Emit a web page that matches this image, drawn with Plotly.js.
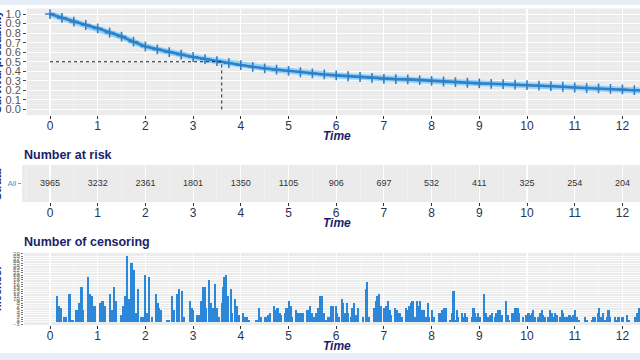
<!DOCTYPE html>
<html>
<head>
<meta charset="utf-8">
<script src="https://cdn.plot.ly/plotly-3.0.1.min.js"></script>
<style>
html,body{margin:0;padding:0;background:#fff;}
#chart{width:640px;height:360px;}
</style>
</head>
<body>
<div id="chart"></div>
<script>
// ---- data ----
const timeTicks = [0,1,2,3,4,5,6,7,8,9,10,11,12];
const atRisk = [3965,3232,2361,1801,1350,1105,906,697,532,411,325,254,204];
const strataLabel = "All";

const survTime = [0,0.25,0.5,0.75,1,1.25,1.5,1.75,2,2.25,2.5,2.75,3,3.25,3.5,3.75,4,4.25,4.5,4.75,5,5.25,5.5,5.75,6,6.25,6.5,6.75,7,7.25,7.5,7.75,8,8.25,8.5,8.75,9,9.25,9.5,9.75,10,10.25,10.5,10.75,11,11.25,11.5,11.75,12,12.25,12.5];
const survProb = [1.0,0.96,0.92,0.885,0.85,0.805,0.764,0.71,0.66,0.63,0.60,0.575,0.55,0.527,0.507,0.485,0.465,0.447,0.43,0.417,0.405,0.39,0.378,0.367,0.357,0.348,0.34,0.33,0.32,0.318,0.315,0.307,0.30,0.293,0.286,0.28,0.273,0.269,0.265,0.26,0.255,0.25,0.245,0.238,0.23,0.225,0.22,0.215,0.21,0.203,0.195];

const medianTime = 3.6;
const medianSurv = 0.5;

const censorTime = [0.14,0.18,0.23,0.29,0.33,0.41,0.47,0.55,0.58,0.62,0.66,0.70,0.80,0.84,0.87,0.92,0.95,1.05,1.10,1.15,1.26,1.29,1.34,1.38,1.50,1.54,1.57,1.62,1.66,1.71,1.76,1.80,1.85,1.90,1.94,1.99,2.03,2.08,2.13,2.22,2.26,2.29,2.33,2.45,2.50,2.55,2.59,2.67,2.71,2.76,2.80,2.94,2.97,3.00,3.09,3.13,3.17,3.20,3.24,3.27,3.33,3.37,3.41,3.46,3.49,3.54,3.60,3.63,3.66,3.69,3.72,3.79,3.82,3.88,3.91,3.95,4.04,4.07,4.12,4.16,4.32,4.35,4.38,4.42,4.51,4.54,4.58,4.61,4.70,4.73,4.77,4.81,4.84,4.93,4.96,5.01,5.05,5.08,5.16,5.19,5.23,5.28,5.31,5.40,5.45,5.49,5.54,5.58,5.63,5.66,5.70,5.74,5.79,5.84,5.90,5.94,5.99,6.02,6.06,6.12,6.15,6.19,6.22,6.25,6.31,6.34,6.38,6.41,6.45,6.57,6.62,6.65,6.69,6.80,6.83,6.86,6.90,6.94,7.01,7.04,7.08,7.12,7.15,7.23,7.27,7.30,7.34,7.37,7.46,7.50,7.53,7.57,7.60,7.64,7.69,7.72,7.76,7.79,7.83,7.88,7.92,7.95,8.01,8.05,8.16,8.19,8.23,8.26,8.30,8.39,8.42,8.46,8.49,8.53,8.56,8.63,8.67,8.70,8.74,8.84,8.88,8.91,8.95,8.98,9.02,9.10,9.13,9.17,9.22,9.26,9.33,9.36,9.40,9.43,9.47,9.56,9.59,9.63,9.68,9.71,9.74,9.77,9.80,9.84,9.92,9.99,10.03,10.06,10.10,10.13,10.17,10.24,10.27,10.31,10.34,10.38,10.45,10.48,10.52,10.55,10.59,10.62,10.69,10.73,10.76,10.80,10.85,10.89,10.94,10.97,11.01,11.04,11.08,11.22,11.25,11.36,11.39,11.43,11.48,11.51,11.55,11.60,11.64,11.67,11.71,11.74,11.85,11.88,11.92,11.99,12.02,12.09,12.13,12.27,12.30,12.34];
const censorCount = [11,7,6,2,2,12,1,5,5,8,15,5,19,12,11,7,7,8,9,7,12,5,15,9,3,7,11,28,10,25,22,4,14,2,2,20,4,19,2,12,8,6,5,1,1,11,5,12,14,13,2,9,6,5,3,3,9,15,15,6,18,8,6,16,6,2,8,15,19,20,11,14,4,10,7,3,4,2,2,1,1,1,6,2,2,2,3,4,7,5,6,4,3,4,6,9,7,2,5,4,4,4,4,5,7,4,2,4,6,11,11,4,1,2,7,7,7,4,2,10,8,4,8,4,2,6,8,3,6,2,14,17,2,6,9,11,12,7,6,7,9,5,3,6,5,4,4,2,6,5,7,8,9,2,9,7,9,5,5,2,8,2,5,2,4,4,5,6,6,1,4,13,1,5,2,4,2,4,2,2,6,4,2,4,2,12,4,2,3,4,2,4,5,5,3,9,3,1,4,4,6,1,6,4,2,3,4,3,4,5,2,2,4,5,3,2,2,5,4,2,4,3,2,5,4,2,2,3,2,3,5,2,1,2,1,1,2,2,4,6,2,4,1,2,5,2,2,1,2,2,2,3,1,2,4,6];

// ---- styling ----
const navy = '#1b1f6b';
const tickCol = '#2c3350';
const panelBg = '#ebebeb';
const W = 640, H = 360;
const px = v => v / W;
const py = v => 1 - v / H;
const xR = left => [(left - 50) / 47.7, (640 - 50) / 47.7];

const font = {family: 'Liberation Sans, Arial, sans-serif'};

const baseX = {
  tickvals: timeTicks, ticktext: timeTicks.map(String),
  ticks: 'outside', ticklen: 3, tickcolor: '#333', tickwidth: 1,
  ticklabelstandoff: -3,
  tickfont: {size: 12, color: tickCol},
  showgrid: true, gridcolor: '#ffffff', gridwidth: 1.1,
  minor: {dtick: 0.5, showgrid: true, gridcolor: '#f6f6f6', gridwidth: 0.5},
  zeroline: false, showline: false, fixedrange: true
};

const traces = [
  {x: survTime, y: survProb, xaxis: 'x', yaxis: 'y', mode: 'lines',
   line: {color: 'rgba(135,206,250,0.9)', width: 6}, hoverinfo: 'skip'},
  {x: survTime, y: survProb, xaxis: 'x', yaxis: 'y', mode: 'lines+markers',
   line: {color: '#2f80c6', width: 2.6},
   marker: {symbol: 'cross-thin-open', size: 7, line: {color: '#2b72b4', width: 1.6}}},
  {x: timeTicks, y: timeTicks.map(() => strataLabel), xaxis: 'x2', yaxis: 'y2', mode: 'text',
   text: atRisk.map(String), textfont: {size: 9, color: '#333333'}, hoverinfo: 'skip'},
  {x: censorTime, y: censorCount, xaxis: 'x3', yaxis: 'y3', type: 'bar', width: 0.046,
   marker: {color: '#2d87d8', line: {width: 0}}}
];

const timeTitle = (ypx) => ({text: '<b><i>Time</i></b>', xref: 'paper', yref: 'paper',
  x: px(337), y: py(ypx), xanchor: 'center', yanchor: 'middle', showarrow: false,
  font: {size: 12, color: navy}});

const layout = {
  width: W, height: H,
  margin: {l: 0, r: 0, t: 0, b: 0},
  paper_bgcolor: '#ffffff', plot_bgcolor: panelBg,
  showlegend: false, font: font,
  bargap: 0,
  xaxis: Object.assign({}, baseX, {domain: [px(27), 1], range: xR(27), anchor: 'y'}),
  yaxis: {domain: [py(115), py(8.5)], range: [-0.058, 1.058], anchor: 'x',
    tickvals: [0,0.1,0.2,0.3,0.4,0.5,0.6,0.7,0.8,0.9,1.0], tickformat: '.1f',
    ticks: 'outside', ticklen: 3, tickcolor: '#444', tickfont: {size: 11, color: '#555'},
    showgrid: true, gridcolor: '#ffffff', gridwidth: 1,
    minor: {dtick: 0.05, showgrid: true, gridcolor: '#f6f6f6', gridwidth: 0.5},
    zeroline: false, fixedrange: true},
  xaxis2: Object.assign({}, baseX, {domain: [px(22), 1], range: xR(22), anchor: 'y2'}),
  yaxis2: {domain: [py(202), py(165)], range: [-0.6, 0.6], anchor: 'x2', type: 'category',
    ticks: 'outside', ticklen: 3, tickcolor: '#6aa3d8', tickfont: {size: 8, color: '#4a94d6'},
    showgrid: false, zeroline: false, fixedrange: true},
  xaxis3: Object.assign({}, baseX, {domain: [px(24), 1], range: xR(24), anchor: 'y3'}),
  yaxis3: {domain: [py(325), py(253)], range: [-1.3, 29.4], anchor: 'x3',
    dtick: 1, tick0: 0, ticks: 'outside', ticklen: 2, tickcolor: '#777',
    tickfont: {size: 6, color: '#777'},
    showgrid: true, gridcolor: '#ffffff', gridwidth: 0.8,
    zeroline: false, fixedrange: true},
  shapes: [
    {type: 'rect', xref: 'paper', yref: 'paper', x0: 0, x1: 1, y0: py(5), y1: 1,
     fillcolor: '#e8eef7', line: {width: 0}, layer: 'below'},
    {type: 'rect', xref: 'paper', yref: 'paper', x0: 0, x1: 1, y0: 0, y1: py(353),
     fillcolor: '#e8eef7', line: {width: 0}, layer: 'below'},
    {type: 'line', xref: 'x', yref: 'y', x0: 0, x1: medianTime, y0: medianSurv, y1: medianSurv,
     line: {color: '#222', width: 1, dash: 'dot'}},
    {type: 'line', xref: 'x', yref: 'y', x0: medianTime, x1: medianTime, y0: 0, y1: medianSurv,
     line: {color: '#222', width: 1, dash: 'dot'}}
  ],
  annotations: [
    timeTitle(136), timeTitle(223), timeTitle(346),
    {text: '<b>Number at risk</b>', xref: 'paper', yref: 'paper', x: px(22), y: py(155),
     xanchor: 'left', yanchor: 'middle', showarrow: false, font: {size: 12.5, color: navy}},
    {text: '<b>Number of censoring</b>', xref: 'paper', yref: 'paper', x: px(22), y: py(242),
     xanchor: 'left', yanchor: 'middle', showarrow: false, font: {size: 12.5, color: navy}},
    {text: '<b>Survival probability</b>', xref: 'paper', yref: 'paper', x: px(-3), y: py(62),
     xanchor: 'center', yanchor: 'middle', textangle: -90, showarrow: false, font: {size: 11, color: navy}},
    {text: '<b>Strata</b>', xref: 'paper', yref: 'paper', x: px(-3), y: py(184),
     xanchor: 'center', yanchor: 'middle', textangle: -90, showarrow: false, font: {size: 11, color: navy}},
    {text: '<b>n.censor</b>', xref: 'paper', yref: 'paper', x: px(-3), y: py(288),
     xanchor: 'center', yanchor: 'middle', textangle: -90, showarrow: false, font: {size: 11, color: navy}}
  ]
};

Plotly.newPlot('chart', traces, layout, {staticPlot: true, displayModeBar: false});
</script>
</body>
</html>
